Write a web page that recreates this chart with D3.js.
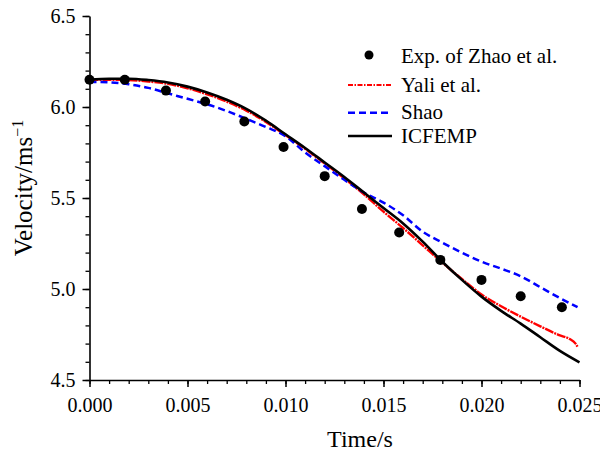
<!DOCTYPE html>
<html>
<head>
<meta charset="utf-8">
<script src="https://cdn.jsdelivr.net/npm/d3@7"></script>
<style>
  body { margin: 0; background: #fff; }
  svg text { fill: #000; }
</style>
</head>
<body>
<svg id="chart" width="600" height="453"></svg>
<script>
// experiment (Zhao et al.)
const expTime = [0, 0.0018, 0.0039, 0.0059, 0.0079, 0.0099, 0.0120, 0.0139, 0.0158, 0.0179, 0.0200, 0.0220, 0.0241]
const expVel = [6.15, 6.15, 6.09, 6.03, 5.92, 5.78, 5.62, 5.44, 5.31, 5.16, 5.05, 4.96, 4.90]

// ICFEMP
const icfempTime = [0, 0.001, 0.002, 0.003, 0.004, 0.005, 0.006, 0.007, 0.008, 0.009, 0.010, 0.011, 0.012,
    0.013, 0.014, 0.015, 0.016, 0.017, 0.018, 0.019, 0.020, 0.021, 0.022, 0.023, 0.024, 0.025]
const icfempVel = [6.150, 6.155, 6.155, 6.148, 6.135, 6.112, 6.080, 6.040, 5.990, 5.925, 5.850, 5.775, 5.695,
    5.615, 5.530, 5.445, 5.360, 5.260, 5.150, 5.050, 4.958, 4.880, 4.810, 4.735, 4.660, 4.597]

// Yali et al.
const yaliTime = [0, 0.001, 0.002, 0.003, 0.004, 0.005, 0.006, 0.007, 0.008, 0.009, 0.010, 0.011, 0.012,
    0.013, 0.014, 0.015, 0.016, 0.017, 0.018, 0.019, 0.020, 0.021, 0.022, 0.023, 0.024, 0.0245, 0.0248, 0.0249]
const yaliVel = [6.150, 6.150, 6.148, 6.140, 6.127, 6.103, 6.070, 6.030, 5.980, 5.918, 5.845, 5.770, 5.690,
    5.608, 5.520, 5.425, 5.335, 5.240, 5.145, 5.055, 4.970, 4.905, 4.848, 4.795, 4.745, 4.725, 4.700, 4.683]

// Shao
const shaoTime = [0, 0.001, 0.002, 0.003, 0.004, 0.005, 0.006, 0.007, 0.008, 0.009, 0.010, 0.011, 0.012,
    0.013, 0.014, 0.015, 0.016, 0.017, 0.018, 0.019, 0.020, 0.021, 0.022, 0.023, 0.024, 0.0249]
const shaoVel = [6.138, 6.135, 6.125, 6.105, 6.075, 6.045, 6.015, 5.978, 5.935, 5.890, 5.840, 5.750, 5.675,
    5.600, 5.530, 5.475, 5.405, 5.315, 5.255, 5.200, 5.150, 5.112, 5.070, 5.010, 4.950, 4.900]

const xTicks = [0, 0.005, 0.010, 0.015, 0.020, 0.025]
const yTicks = [4.5, 5.0, 5.5, 6.0, 6.5]
const legendNames = ["Exp. of Zhao et al.", "Yali et al.", "Shao", "ICFEMP"]

const serif = "Liberation Serif, DejaVu Serif"

const svg = d3.select("#chart")
const width = +svg.attr('width')
const height = +svg.attr('height')

const margin = { top: 16, right: 20.5, bottom: 73, left: 89.5 }
const innerWidth = width - margin.left - margin.right
const innerHeight = height - margin.top - margin.bottom

const xScale = d3.scaleLinear()
    .domain([0, 0.025])
    .range([0, innerWidth])

const yScale = d3.scaleLinear()
    .domain([4.5, 6.5])
    .range([innerHeight, 0])

const g = svg.append("g")
    .attr('transform', `translate(${margin.left},${margin.top})`)

// minor ticks first
g.append("g")
    .attr('transform', `translate(0,${innerHeight})`)
    .call(d3.axisBottom(xScale).tickValues(d3.range(0, 26).map(i => i * 0.001)).tickSize(4).tickFormat(""))
    .call(a => a.select(".domain").remove())
    .call(a => a.selectAll("text").remove())
    .selectAll("line").attr("stroke-width", 1.3)

g.append("g")
    .call(d3.axisLeft(yScale).tickValues(d3.range(0, 21).map(i => 4.5 + i * 0.1)).tickSize(4).tickFormat(""))
    .call(a => a.select(".domain").remove())
    .call(a => a.selectAll("text").remove())
    .selectAll("line").attr("stroke-width", 1.3)

const xAxisG = g.append("g")
    .attr('transform', `translate(0,${innerHeight})`)
    .call(d3.axisBottom(xScale).tickValues(xTicks).tickFormat(d3.format(".3f"))
        .tickSize(7).tickSizeOuter(0).tickPadding(11))
    .attr("font-family", null)
    .attr("font-size", null)
xAxisG.select(".domain").attr("stroke-width", 1.6)
xAxisG.selectAll("line").attr("stroke-width", 1.5)

const yAxisG = g.append("g")
    .call(d3.axisLeft(yScale).tickValues(yTicks).tickFormat(d3.format(".1f"))
        .tickSize(7).tickSizeOuter(0).tickPadding(7))
    .attr("font-family", null)
    .attr("font-size", null)
yAxisG.select(".domain").attr("stroke-width", 1.6)
yAxisG.selectAll("line").attr("stroke-width", 1.5)

svg.selectAll(".tick text")
    .style("font-family", serif)
    .style("font-size", "20px")

// axis titles
svg.append("text")
    .attr("x", 360)
    .attr("y", 447)
    .style("font-family", serif)
    .style("font-size", "24px")
    .attr("text-anchor", "middle")
    .text("Time/s")

const yLabel = svg.append("text")
    .attr("transform", "translate(32,188) rotate(-90)")
    .style("font-family", serif)
    .style("font-size", "25px")
    .attr("text-anchor", "middle")
yLabel.append("tspan").text("Velocity/ms")
yLabel.append("tspan").attr("dy", -9).style("font-size", "16px").text("\u22121")

// curves
const line = d3.line()
    .x(d => xScale(d[0]))
    .y(d => yScale(d[1]))
    .curve(d3.curveMonotoneX)

const zip = (a, b) => a.map((t, i) => [t, b[i]])

g.append("path")
    .attr("d", line(zip(yaliTime, yaliVel)))
    .attr("fill", "none")
    .attr("stroke", "#ff0000")
    .attr("stroke-width", 2.4)
    .attr("stroke-dasharray", "9,1,2,1")

g.append("path")
    .attr("d", line(zip(shaoTime, shaoVel)))
    .attr("fill", "none")
    .attr("stroke", "#0000ff")
    .attr("stroke-width", 2.5)
    .attr("stroke-dasharray", "7,4")

g.append("path")
    .attr("d", line(zip(icfempTime, icfempVel)))
    .attr("fill", "none")
    .attr("stroke", "#000")
    .attr("stroke-width", 2.6)

g.selectAll("circle")
    .data(zip(expTime, expVel))
    .enter()
    .append("circle")
    .attr("cx", d => xScale(d[0]))
    .attr("cy", d => yScale(d[1]))
    .attr("r", 5)
    .attr("fill", "#000")

// legend
const legend = svg.append("g")
const rows = [
    { y: 62.7, sym: 55 },
    { y: 91.7, sym: 85, color: "#ff0000", dash: "5,1.5,1.5,1.5", w: 2.2 },
    { y: 119, sym: 112.7, color: "#0000ff", dash: "7,4", w: 2.5 },
    { y: 143.3, sym: 136, color: "#000", dash: null, w: 2.5 }
]
rows.forEach((r, i) => {
    if (i === 0) {
        legend.append("circle").attr("cx", 369).attr("cy", r.sym).attr("r", 4.5).attr("fill", "#000")
    } else {
        legend.append("line")
            .attr("x1", 348).attr("x2", 392)
            .attr("y1", r.sym).attr("y2", r.sym)
            .attr("stroke", r.color)
            .attr("stroke-width", r.w)
            .attr("stroke-dasharray", r.dash)
    }
    legend.append("text")
        .attr("x", 401)
        .attr("y", r.y)
        .style("font-family", serif)
        .style("font-size", "21px")
        .text(legendNames[i])
})
</script>
</body>
</html>
